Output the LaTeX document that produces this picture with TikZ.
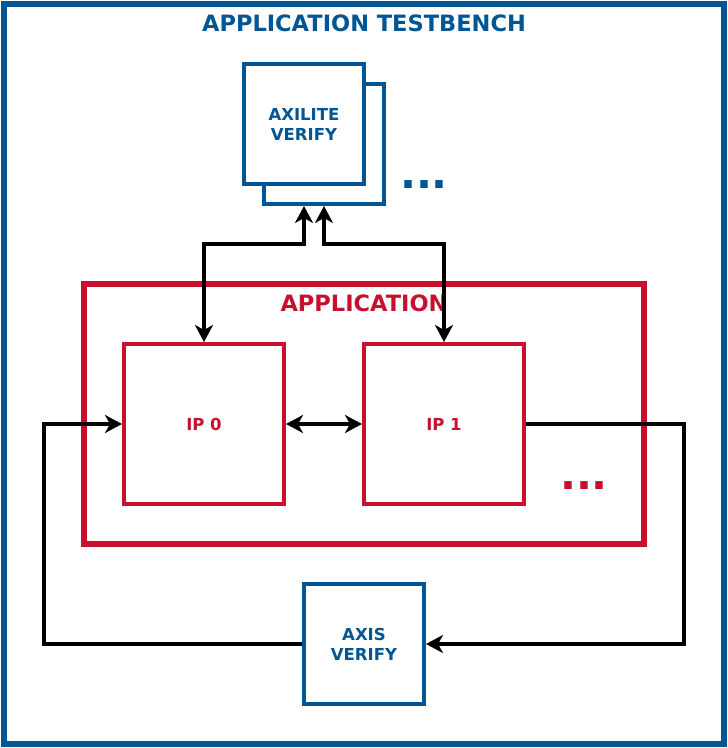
\documentclass[tikz,border=0pt]{standalone}
\usepackage{fontspec}
\setmainfont{DejaVu Sans}
\usetikzlibrary{arrows.meta}
\definecolor{tbblue}{HTML}{005595}
\definecolor{appred}{HTML}{C8102E}
\begin{document}
\begin{tikzpicture}[x=1pt,y=-1pt,
  bluebox/.style={draw=tbblue,line width=4pt,fill=white,minimum width=120pt,minimum height=120pt,inner sep=0pt,
    text=tbblue,font=\fontsize{16.5}{20}\selectfont\bfseries,align=center},
  ipbox/.style={draw=appred,line width=4pt,fill=white,minimum width=160pt,minimum height=160pt,inner sep=0pt,
    text=appred,font=\fontsize{16.5}{20}\selectfont\bfseries},
  tip/.tip={Stealth[length=17pt,width=18pt,inset=5pt]},
  conn/.style={line width=4pt,line join=miter,-tip},
  bconn/.style={line width=4pt,line join=miter,tip-tip},
  dots/.style={font=\fontsize{42}{42}\selectfont\bfseries,inner sep=0pt}
]
\useasboundingbox (0,0) rectangle (728,748);
\node[draw=tbblue,line width=5.5pt,minimum width=720pt,minimum height=740pt,inner sep=0pt] (tb) at (364,374) {};
\node[text=tbblue,font=\fontsize{22.5}{24}\selectfont\bfseries] (tbt) at (364,23) {APPLICATION TESTBENCH};
% axilite stacked
\node[bluebox] (ax2) at (324,144) {};
\node[bluebox] (ax1) at (304,124) {AXILITE\\VERIFY};
\node[dots,text=tbblue,anchor=base] (bdots) at (424,188) {...};
% application
\node[draw=appred,line width=5.5pt,minimum width=560pt,minimum height=260pt,inner sep=0pt] (app) at (364,414) {};
\node[text=appred,font=\fontsize{22.5}{24}\selectfont\bfseries] (appt) at (364,303) {APPLICATION};
\node[ipbox] (ip0) at (204,424) {IP 0};
\node[ipbox] (ip1) at (444,424) {IP 1};
\node[dots,text=appred,anchor=base] (rdots) at (584,489) {...};
% axis
\node[bluebox] (axis) at (364,644) {AXIS\\VERIFY};
% connectors
\coordinate (a2) at (204,244);
\coordinate (b1) at (324,244);
\draw[bconn] ([xshift=-20pt]ax2.south) |- (a2) -- (ip0.north);
\draw[bconn] (ax2.south) -- (b1) -| (ip1.north);
\draw[bconn] (ip0.east) -- (ip1.west);
\coordinate (r1) at (684,424); \coordinate (r2) at (684,644);
\draw[conn] (ip1.east) -- (r1) -- (r2) -- (axis.east);
\coordinate (l1) at (44,644); \coordinate (l2) at (44,424);
\draw[conn] (axis.west) -- (l1) -- (l2) -- (ip0.west);
\end{tikzpicture}
\end{document}
